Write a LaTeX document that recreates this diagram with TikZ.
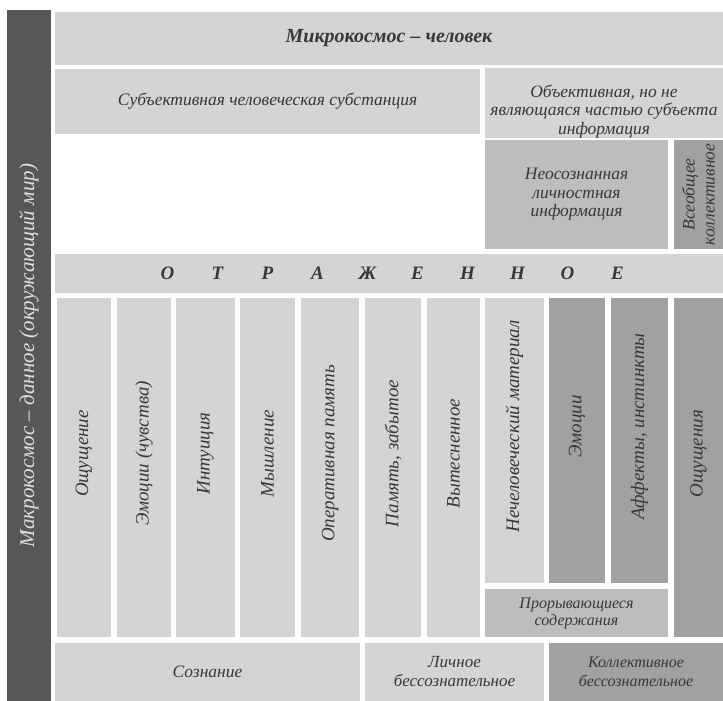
\documentclass[tikz,border=0pt]{standalone}
\usepackage{fontspec}
\setmainfont{Liberation Serif}
\usetikzlibrary{positioning}
\definecolor{litegray}{gray}{0.83}
\definecolor{midgray}{gray}{0.74}
\definecolor{deepgray}{gray}{0.63}
\definecolor{bargray}{gray}{0.34}
\definecolor{inkgray}{gray}{0.22}
\begin{document}
\begin{tikzpicture}[
  x=1pt, y=-1pt,
  font=\itshape\fontsize{17.5}{18.5}\selectfont,
  box/.style={inner sep=0pt, align=center, text=inkgray},
  light/.style={box, fill=litegray},
  mid/.style={box, fill=midgray},
  dark/.style={box, fill=deepgray},
  tallcol/.style={rotate=90, minimum width=339pt, minimum height=#1, font=\itshape\fontsize{19}{20}\selectfont},
  shortcol/.style={rotate=90, minimum width=285pt, minimum height=#1, font=\itshape\fontsize{19}{20}\selectfont}]
  \fill[white] (0,0) rectangle (723,701);
  \useasboundingbox (0,0) rectangle (723,701);
  % left bar
  \node[box, fill=bargray, text=white!88!black, rotate=90, minimum width=691pt, minimum height=44pt,
    font=\itshape\fontsize{21}{22}\selectfont] (makro) at (29,355.5)
    {Макрокосмос -- данное (окружающий мир)};
  % upper part
  \node[light, minimum width=668pt, minimum height=53pt, font=\bfseries\itshape\fontsize{20}{22}\selectfont]
    (mikro) at (389,38.5) {Микрокосмос -- человек};
  \node[light, minimum width=425pt, minimum height=65pt] (subj) at (267.5,101.5)
    {Субъективная человеческая субстанция};
  \node[light, minimum width=238pt, minimum height=68pt] (obj) at (604,103)
    {\rule{0pt}{29pt}Объективная, но не\\являющаяся частью субъекта\\информация};
  \node[mid, minimum width=183pt, minimum height=109pt] (neos) at (576.5,194.5)
    {Неосознанная\\личностная\\информация};
  \node[dark, rotate=90, minimum width=109pt, minimum height=49pt, font=\itshape\fontsize{17.5}{20}\selectfont]
    (vseob) at (698.5,194.5) {Всеобщее\\коллективное};
  \node[light, minimum width=668pt, minimum height=39pt, font=\bfseries\itshape\fontsize{19}{20}\selectfont]
    (otr) at (389,273.5)
    {\hspace*{7pt}\foreach \l in {О,Т,Р,А,Ж,Е,Н,Н,О,Е}{\makebox[50pt]{\l}}};
  % columns
  \node[light, tallcol=54pt] (c1) at (84,467.5) {\hspace*{28pt}Ощущение};
  \node[light, tallcol=54pt] (c2) at (144,467.5) {\hspace*{28pt}Эмоции (чувства)};
  \node[light, tallcol=59pt] (c3) at (205.5,467.5) {\hspace*{28pt}Интуиция};
  \node[light, tallcol=55pt] (c4) at (267.5,467.5) {\hspace*{28pt}Мышление};
  \node[light, tallcol=58pt] (c5) at (330,467.5) {\hspace*{28pt}Оперативная память};
  \node[light, tallcol=56pt] (c6) at (393,467.5) {\hspace*{28pt}Память, забытое};
  \node[light, tallcol=53pt] (c7) at (453.5,467.5) {\hspace*{28pt}Вытесненное};
  \node[light, shortcol=59pt] (c8) at (514.5,440.5) {\hspace*{28pt}Нечеловеческий материал};
  \node[dark, shortcol=56pt] (c9) at (577,440.5) {\hspace*{28pt}Эмоции};
  \node[dark, shortcol=57pt] (c10) at (639.5,440.5) {\hspace*{28pt}Аффекты, инстинкты};
  \node[dark, tallcol=49pt] (c11) at (698.5,467.5) {\hspace*{28pt}Ощущения};
  \node[mid, minimum width=183pt, minimum height=48pt, font=\itshape\fontsize{16}{17}\selectfont]
    (proryv) at (576.5,613) {Прорывающиеся\\содержания};
  % bottom row
  \node[light, minimum width=305pt, minimum height=58pt] (soz) at (207.5,672) {Сознание};
  \node[light, minimum width=179pt, minimum height=58pt, font=\itshape\fontsize{17}{19}\selectfont]
    (lich) at (454.5,672) {Личное\\бессознательное};
  \node[dark, minimum width=174pt, minimum height=58pt, font=\itshape\fontsize{16}{19}\selectfont]
    (koll) at (636,672) {Коллективное\\бессознательное};
\end{tikzpicture}
\end{document}
